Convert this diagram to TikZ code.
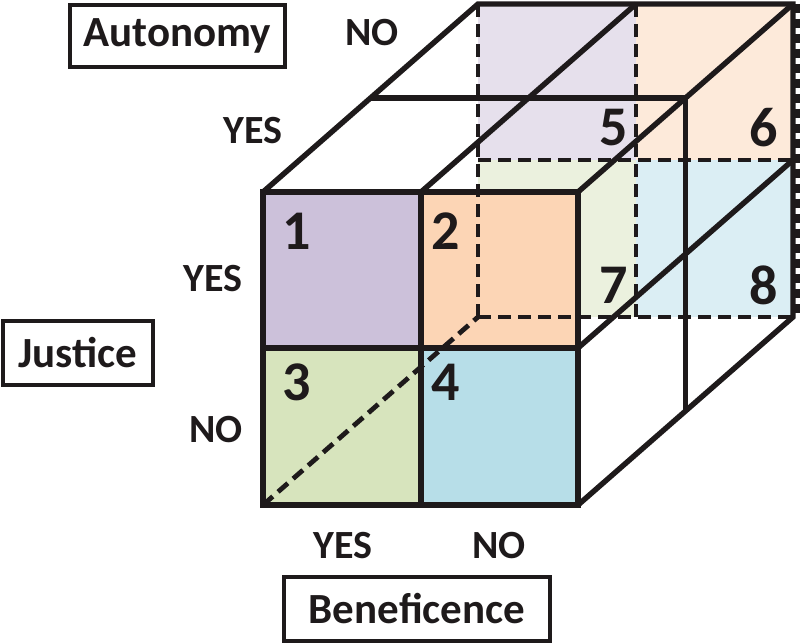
\documentclass[tikz,border=0pt]{standalone}
\usepackage{fontspec}
\setmainfont{Carlito}
\definecolor{c1}{HTML}{CCC1DA}
\definecolor{c2}{HTML}{FCD5B5}
\definecolor{c3}{HTML}{D7E4BD}
\definecolor{c4}{HTML}{B7DEE8}
\definecolor{c5}{HTML}{E6E0EC}
\definecolor{c6}{HTML}{FDEADA}
\definecolor{c7}{HTML}{EBF1DE}
\definecolor{c8}{HTML}{DBEEF4}
\definecolor{ink}{HTML}{1E1A1B}
\tikzset{
  edge/.style={line width=5.4pt, line join=miter, ink},
  hidden/.style={line width=4.8pt, ink, dash pattern=on 13pt off 7pt},
  lbl/.style={font=\fontsize{40}{48}\selectfont\bfseries, inner sep=0pt, text=ink},
  num/.style={font=\fontsize{56}{60}\selectfont\bfseries, inner sep=0pt, text=ink},
  catbox/.style={draw=ink, line width=4.2pt, font=\fontsize{43}{50}\selectfont\bfseries, inner sep=0pt, text=ink}
}
\begin{document}
\begin{tikzpicture}[x=1pt,y=-1pt]
\useasboundingbox (0,0) rectangle (800,644);
% front vertices
\coordinate (F00) at (263,192); \coordinate (F10) at (421,192); \coordinate (F20) at (578,192);
\coordinate (F01) at (263,348); \coordinate (F11) at (421,348); \coordinate (F21) at (578,348);
\coordinate (F02) at (263,505); \coordinate (F12) at (421,505); \coordinate (F22) at (578,505);
% back vertices
\coordinate (B00) at (478,4); \coordinate (B10) at (636,4); \coordinate (B20) at (793,4);
\coordinate (B01) at (478,160); \coordinate (B11) at (636,160); \coordinate (B21) at (793,160);
\coordinate (B02) at (478,317); \coordinate (B12) at (636,317); \coordinate (B22) at (793,317);
% middle layer
\coordinate (M00) at (370.5,98); \coordinate (M20) at (685.5,98); \coordinate (M22) at (685.5,411);
\coordinate (R0) at (797.5,4); \coordinate (R2) at (797.5,317);
% back fills
\fill[c5] (B00) rectangle (B11);
\fill[c6] (B10) rectangle (B21);
\fill[c7] (B01) rectangle (B12);
\fill[c8] (B11) rectangle (B22);
% front fills
\fill[c1] (F00) rectangle (F11);
\fill[c2] (F10) rectangle (F21);
\fill[c3] (F01) rectangle (F12);
\fill[c4] (F11) rectangle (F22);
% solid edges
\draw[edge] (F00) rectangle (F22);
\draw[edge] (F10) -- (F12);
\draw[edge] (F01) -- (F21);
\draw[edge] (F00) -- (B00) -- (B20) -- (B22) -- (F22);
\draw[edge] (F10) -- (B10);
\draw[edge] (F20) -- (B20);
\draw[edge] (F21) -- (B21);
\draw[edge] (M00) -- (M20) -- (M22);
% hidden edges
\draw[hidden] (B00) -- (B02);
\draw[hidden] (B10) -- (B12);
\draw[hidden] (B01) -- (B21);
\draw[hidden] (B02) -- (B22);
\draw[hidden] (F02) -- (B02);
\draw[line width=4.5pt, ink, dash pattern=on 9pt off 6pt] (R0) -- (R2);
% cell numbers
\node[num] (n1) at (297,231) {1};
\node[num] (n2) at (446,231) {2};
\node[num] (n3) at (297,382) {3};
\node[num] (n4) at (446,382) {4};
\node[num] (n5) at (614,128) {5};
\node[num] (n6) at (764,128) {6};
\node[num] (n7) at (614,285) {7};
\node[num] (n8) at (764,285) {8};
% axis labels
\node[lbl] (aNo) at (372,33) {NO};
\node[lbl] (aYes) at (253,131) {YES};
\node[lbl] (jYes) at (213,279) {YES};
\node[lbl] (jNo) at (216,430) {NO};
\node[lbl] (bYes) at (343,546) {YES};
\node[lbl] (bNo) at (499,546) {NO};
% category boxes
\node[catbox, minimum width=214.8pt, minimum height=61.8pt] (auto) at (177.5,36) {Autonomy};
\node[catbox, minimum width=149.8pt, minimum height=63.8pt] (just) at (78,353) {Justice};
\node[catbox, minimum width=265.8pt, minimum height=63.8pt] (bene) at (417,609) {Beneficence};
\end{tikzpicture}
\end{document}
